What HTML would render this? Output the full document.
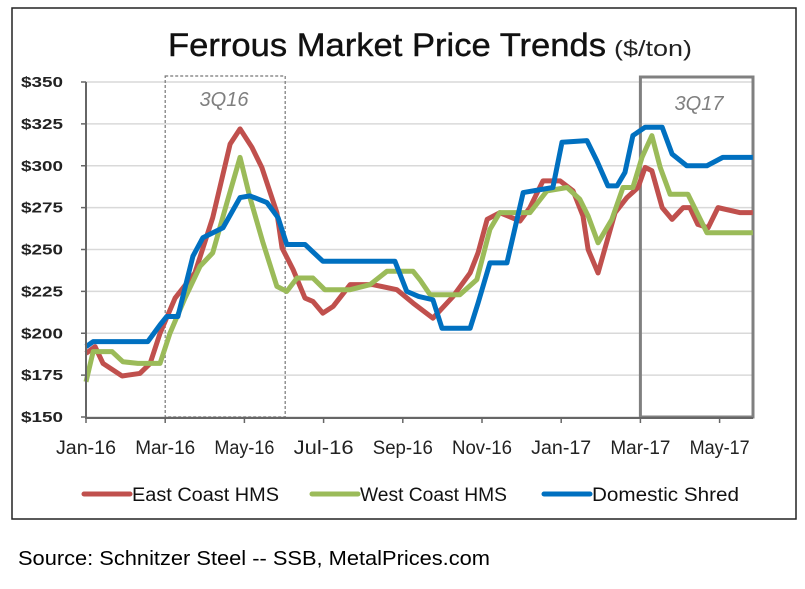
<!DOCTYPE html>
<html><head><meta charset="utf-8"><style>
body{margin:0;background:#fff;width:805px;height:589px;overflow:hidden;font-family:"Liberation Sans",sans-serif}
</style></head><body>
<svg id="chart" width="805" height="589" style="position:absolute;left:0;top:0">
<rect x="12" y="8" width="784" height="511" fill="none" stroke="#222" stroke-width="1.5"/>
<text x="168" y="56" font-size="32" fill="#111" stroke="#111" stroke-width="0.4" textLength="438" lengthAdjust="spacingAndGlyphs">Ferrous Market Price Trends</text>
<text x="614" y="56" font-size="22" fill="#222" textLength="78" lengthAdjust="spacingAndGlyphs">($/ton)</text>
<g id="grid"></g><g id="boxes"></g><g id="series"></g><g id="axes"></g><g id="legend"></g>
<text x="18" y="565" font-size="20" fill="#000" textLength="472" lengthAdjust="spacingAndGlyphs">Source: Schnitzer Steel -- SSB, MetalPrices.com</text>
</svg>
<script>
const yTicks=[150,175,200,225,250,275,300,325,350];
const xLabels=["Jan-16","Mar-16","May-16","Jul-16","Sep-16","Nov-16","Jan-17","Mar-17","May-17"];
const xLabelMonths=[0,2,4,6,8,10,12,14,16];
const eastT=[0,0.23,0.43,0.91,1.36,1.62,1.87,2.25,2.75,3.2,3.64,3.89,4.19,4.44,4.82,4.95,5.23,5.53,5.73,5.98,6.24,6.67,7.25,7.85,8.26,8.76,9.27,9.7,9.9,10.13,10.45,10.96,11.21,11.54,11.97,12.3,12.55,12.68,12.93,13.36,13.66,13.94,14.12,14.29,14.55,14.8,15.08,15.25,15.45,15.71,15.96,16.52,16.84];
const eastV=[188,192,182,174.5,176,182,200,221,236,269,313,322,311,299,272,251,238,221,219,212,216,229,229,226,218,209,222,236,248,268,272,267,275,291,291,285,270,250,236,272,281,287,299,297,275,268,275,275,265,263,275,272,272];
const westT=[0,0.18,0.66,0.93,1.31,1.87,2.12,2.5,2.88,3.2,3.56,3.89,4.14,4.47,4.82,5.07,5.33,5.73,6.03,6.67,7.17,7.6,8.26,8.43,8.69,9.44,9.87,10.2,10.45,11.21,11.64,12.15,12.47,12.68,12.93,13.28,13.56,13.81,14.04,14.29,14.5,14.75,15.2,15.68,16.84];
const westV=[171,189,189,183,182,182,200,221,240,248,278,305,281,254,228,225,233,233,226,226,229,237,237,232,223,223,232,262,272,272,285,287,280,270,254,268,287,287,305,318,299,283,283,260,260];
const shredT=[0,0.18,1.56,1.87,2.04,2.32,2.7,2.95,3.46,3.89,4.14,4.57,4.85,5.07,5.53,5.98,7.8,8.1,8.4,8.76,8.99,9.7,9.9,10.2,10.63,11.04,11.79,12.02,12.65,12.9,13.18,13.41,13.61,13.81,14.12,14.55,14.8,15.17,15.68,16.08,16.84];
const shredV=[192,195,195,205,210,210,246,257,263,281,282,278,269,253,253,243,243,225,222,220,203,203,218,242,242,284,287,314,315,303,288,288,296,318,323,323,307,300,300,305,305];
const NS='http://www.w3.org/2000/svg';
const X=t=>86+t*39.6;
const Y=v=>417-(v-150)*335/200;
function mk(tag,attrs,parent,text){const e=document.createElementNS(NS,tag);for(const k in attrs)e.setAttribute(k,attrs[k]);if(text!==undefined)e.textContent=text;document.getElementById(parent).appendChild(e);return e;}
yTicks.forEach(v=>{
 const g=mk('line',{x1:86,x2:753,y1:Y(v),y2:Y(v),stroke:'#d9d9d9','stroke-width':1.5},'grid');
 
 
 const tk=mk('line',{x1:81,x2:86,y1:Y(v),y2:Y(v),stroke:'#666','stroke-width':1.5},'axes');
 
 
 const l=mk('text',{x:63,y:Y(v)+5,'font-size':15,'font-weight':'bold','text-anchor':'end',fill:'#222',textLength:42,lengthAdjust:'spacingAndGlyphs'},'axes','$'+v);
 
 
});
const b1=mk('rect',{x:X(2),y:76,width:X(5.03)-X(2),height:341,fill:'none',stroke:'#777','stroke-width':1.2,'stroke-dasharray':'3,2'},'boxes');


const t1=mk('text',{x:224,y:106,'font-size':20,'font-style':'italic',fill:'#7f7f7f','text-anchor':'middle'},'boxes','3Q16');


const b2=mk('rect',{x:X(14),y:77,width:753-X(14),height:340,fill:'none',stroke:'#808080','stroke-width':3},'boxes');


const t2=mk('text',{x:699,y:110,'font-size':20,'font-style':'italic',fill:'#7f7f7f','text-anchor':'middle'},'boxes','3Q17');


function line(T,V,color,name){
 const p=mk('polyline',{points:T.map((t,i)=>X(t)+','+Y(V[i])).join(' '),fill:'none',stroke:color,'stroke-width':5,'stroke-linejoin':'round'},'series');
 
 
}
line(eastT,eastV,'#c0504d','east-coast-hms-line');
line(westT,westV,'#9bbb59','west-coast-hms-line');
line(shredT,shredV,'#0070c0','domestic-shred-line');
const ya=mk('line',{x1:86,x2:86,y1:82,y2:418,stroke:'#666','stroke-width':2},'axes');


const xa=mk('line',{x1:85,x2:753,y1:418,y2:418,stroke:'#666','stroke-width':2},'axes');


xLabels.forEach((s,i)=>{
 const x=X(xLabelMonths[i]);
 const tk=mk('line',{x1:x,x2:x,y1:418,y2:423,stroke:'#666','stroke-width':1.5},'axes');
 
 
 const l=mk('text',{x:x,y:454,'font-size':19,fill:'#222','text-anchor':'middle',textLength:s.length*10,lengthAdjust:'spacingAndGlyphs'},'axes',s);
 
 
});
const leg=[['East Coast HMS','#c0504d',84],['West Coast HMS','#9bbb59',312],['Domestic Shred','#0070c0',544]];
leg.forEach(([s,c,x])=>{
 const sw=mk('line',{x1:x,x2:x+46,y1:494,y2:494,stroke:c,'stroke-width':5,'stroke-linecap':'round'},'legend');
 
 
 const l=mk('text',{x:x+48,y:501,'font-size':19,fill:'#111',textLength:s.length*10.5,lengthAdjust:'spacingAndGlyphs'},'legend',s);
 
 
});
</script>
</body></html>
